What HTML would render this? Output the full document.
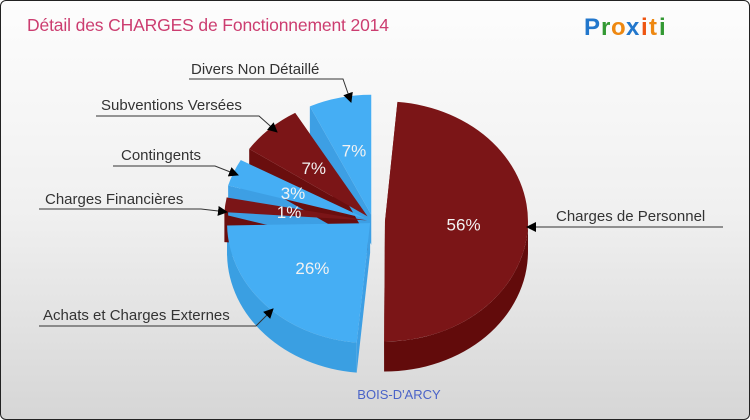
<!DOCTYPE html>
<html><head><meta charset="utf-8">
<style>
html,body{margin:0;padding:0;}
body{width:750px;height:420px;overflow:hidden;font-family:"Liberation Sans",sans-serif;}
#frame{position:absolute;left:0;top:0;width:748px;height:418px;border:1px solid #222;border-radius:6px;background:linear-gradient(#fdfdfd,#f0f0f0 50%,#d6d6d6);overflow:hidden;}
svg{position:absolute;left:0;top:0;}
</style></head>
<body>
<div id="frame">
<svg id="chart" width="750" height="420">
  <defs>
    <marker id="arr" markerWidth="10" markerHeight="10" refX="9" refY="5" orient="auto" markerUnits="userSpaceOnUse">
      <path d="M0,0 L10,5 L0,10 z" fill="#000"/>
    </marker>
  </defs>
  <text x="26" y="30" font-size="17.5" fill="#cc3d70" font-weight="300" textLength="362">Détail des CHARGES de Fonctionnement 2014</text>
  <g font-size="24" font-weight="bold" font-family="'Liberation Sans',sans-serif">
    <text x="583" y="34" fill="#2277cc">P</text>
    <text x="600" y="34" fill="#339933">r</text>
    <text x="610" y="34" fill="#ee8811">o</text>
    <text x="625" y="34" fill="#2277cc">x</text>
    <text x="640" y="34" fill="#ee5511">i</text>
    <text x="648" y="34" fill="#ee8811">t</text>
    <text x="658" y="34" fill="#339933">i</text>
  </g>
  <g id="slices"></g>
  <g id="pcts"></g>
  <g font-size="15" fill="#333" font-weight="300">
    <text x="190" y="73">Divers Non Détaillé</text>
    <text x="100" y="109">Subventions Versées</text>
    <text x="120" y="159">Contingents</text>
    <text x="44" y="203">Charges Financières</text>
    <text x="42" y="319">Achats et Charges Externes</text>
    <text x="555" y="220">Charges de Personnel</text>
  </g>
  <g stroke="#333" stroke-width="1" fill="none">
    <polyline points="188,78 342,78 350,101" marker-end="url(#arr)"/>
    <polyline points="95,115 258,115 276,131" marker-end="url(#arr)"/>
    <polyline points="112,165 214,165 237,174" marker-end="url(#arr)"/>
    <polyline points="38,208 200,208 226,211" marker-end="url(#arr)"/>
    <polyline points="38,325 255,325 272,308" marker-end="url(#arr)"/>
    <polyline points="722,226 548,226 526,226" marker-end="url(#arr)"/>
  </g>
  <text x="398" y="398" font-size="13" fill="#4a63c8" text-anchor="middle">BOIS-D'ARCY</text>
</svg>
</div>
<script>
const categories = ["Charges de Personnel","Achats et Charges Externes","Charges Financières","Contingents","Subventions Versées","Divers Non Détaillé"];
const values = [56, 26, 1, 3, 7, 7];
const colorKeys = ["red","blue","red","blue","red","blue"];
const explodeOffsets = [12, 4, 6, 8, 8, 8];

const NS = "http://www.w3.org/2000/svg";
const cx = 372, cy = 220, rx = 143, ry = 120, depth = 30;
const palette = {red:{top:"#7b1517",side:"#620b0b",wall:"#6a0e0e"}, blue:{top:"#45aef4",side:"#3a9fe2",wall:"#3d9fe4"}};
const total = values.reduce((a,b)=>a+b,0);
const gapDeg = 5, baseDeg = 4;
const k = (360 - gapDeg*values.length - baseDeg*values.length)/total;
const rad = d => d*Math.PI/180;
function pt(ox,oy,a){return [ox+rx*Math.cos(rad(a)), oy+ry*Math.sin(rad(a))];}
const sideG = document.createElementNS(NS,"g");
const topG = document.createElementNS(NS,"g");
document.getElementById("slices").appendChild(sideG);
document.getElementById("slices").appendChild(topG);
const pctG = document.getElementById("pcts");
let start = -85;
values.forEach((v,i)=>{
  const sweep = baseDeg + v*k, end = start+sweep, mid = start+sweep/2;
  const ox = cx + explodeOffsets[i]*Math.cos(rad(mid));
  const oy = cy + explodeOffsets[i]*Math.sin(rad(mid))*0.8;
  const col = palette[colorKeys[i]];
  const large = sweep>180?1:0;
  const s = pt(ox,oy,start), e = pt(ox,oy,end);
  [start,end].forEach(a=>{
    const p = pt(ox,oy,a);
    const w = document.createElementNS(NS,"path");
    w.setAttribute("d",`M${ox},${oy} L${p[0]},${p[1]} L${p[0]},${p[1]+depth} L${ox},${oy+depth} Z`);
    w.setAttribute("fill",col.wall);
    
    
    sideG.appendChild(w);
  });
  const a0 = Math.max(start,0), a1 = Math.min(end,180);
  if(a1>a0){
    const p0 = pt(ox,oy,a0), p1 = pt(ox,oy,a1);
    const lg = (a1-a0)>180?1:0;
    const w = document.createElementNS(NS,"path");
    w.setAttribute("d",`M${p0[0]},${p0[1]} A${rx},${ry} 0 ${lg} 1 ${p1[0]},${p1[1]} L${p1[0]},${p1[1]+depth} A${rx},${ry} 0 ${lg} 0 ${p0[0]},${p0[1]+depth} Z`);
    w.setAttribute("fill",col.side);
    
    
    sideG.appendChild(w);
  }
  const t = document.createElementNS(NS,"path");
  t.setAttribute("d",`M${ox},${oy} L${s[0]},${s[1]} A${rx},${ry} 0 ${large} 1 ${e[0]},${e[1]} Z`);
  t.setAttribute("fill",col.top);
  
  
  topG.appendChild(t);
  const lr = 0.55;
  const tx = ox + rx*lr*Math.cos(rad(mid)), ty = oy + ry*lr*Math.sin(rad(mid));
  const lbl = document.createElementNS(NS,"text");
  lbl.setAttribute("x",tx); lbl.setAttribute("y",ty+6);
  lbl.setAttribute("text-anchor","middle");
  lbl.setAttribute("font-size","17");
  lbl.setAttribute("fill","#f2f2f2");
  lbl.textContent = Math.round(v) + "%";
  
  
  pctG.appendChild(lbl);
  start = end + gapDeg;
});
</script>
</body></html>
